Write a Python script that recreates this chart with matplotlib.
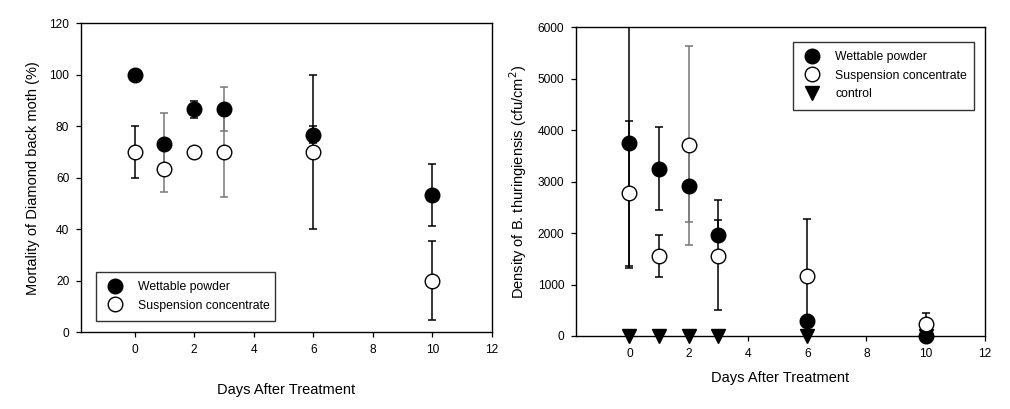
import matplotlib
matplotlib.use("Agg")
import matplotlib.pyplot as plt
import numpy as np

plt.rcParams["font.family"] = ["Liberation Sans", "DejaVu Sans"]

# Mortality (left panel)
days = [0, 1, 2, 3, 6, 10]
wp_mort = [100, 73.3, 86.7, 86.7, 76.7, 53.3]
wp_mort_err = [0, 12, 3.3, 8.7, 3.3, 12]
sc_mort = [70, 63.3, 70, 70, 70, 20]
sc_mort_err = [10, 8.8, 0, 17.3, 30, 15.3]

# B. thuringiensis density (right panel)
wp_dens = [3750, 3250, 2910, 1965, 290, 0]
wp_dens_lo = [2420, 810, 695, 0, 0, 0]
wp_dens_hi = [2430, 810, 695, 687, 0, 0]
sc_dens = [2770, 1556, 3703, 1563, 1161, 240]
sc_dens_lo = [1413, 405, 1935, 1064, 1115, 207]
sc_dens_hi = [1413, 405, 1935, 687, 1115, 207]
control = [0, 0, 0, 0, 0, 0]

series_names = ["Wettable powder", "Suspension concentrate", "control"]

gray_left = [1, 3]
gray_right = [2]
ms = 10.5
cap = 3


def draw_err(ax, x, y, lo, hi, gray_days):
    x = np.array(x)
    y = np.array(y)
    lo = np.array(lo)
    hi = np.array(hi)
    g = np.isin(x, gray_days)
    for mask, col in [(~g, "black"), (g, "#777777")]:
        ax.errorbar(x[mask], y[mask], yerr=[lo[mask], hi[mask]], fmt="none",
                    ecolor=col, elinewidth=1.1, capsize=cap, capthick=1.1, zorder=2)


def style_axes(ax):
    for s in ax.spines.values():
        s.set_linewidth(1.0)
    ax.tick_params(direction="out", length=3.5, width=0.9, labelsize=8.6,
                   top=False, right=False, pad=5)
    ax.set_xlim(-1.8, 12)
    ax.set_xticks(np.arange(0, 13, 2))


def make_legend(ax, handles, labels, loc, box):
    leg = ax.legend(handles, labels, loc=loc, bbox_to_anchor=box,
                    mode="expand", fontsize=8.8, frameon=True, fancybox=False,
                    edgecolor="black", borderpad=0.75, handletextpad=1.1,
                    labelspacing=0.55, borderaxespad=0, handlelength=1.6,
                    markerscale=1.0)
    leg.get_frame().set_linewidth(1.0)
    return leg


fig = plt.figure(figsize=(10.10, 4.09), dpi=100)

# left panel
ax1 = fig.add_axes([0.0802, 0.1875, 0.407, 0.7555])
style_axes(ax1)
ax1.set_ylim(0, 120)
ax1.set_yticks(np.arange(0, 121, 20))
draw_err(ax1, days, wp_mort, wp_mort_err, wp_mort_err, gray_left)
draw_err(ax1, days, sc_mort, sc_mort_err, sc_mort_err, gray_left)
ax1.plot(days, wp_mort, "o", ms=ms, mfc="black", mec="black", ls="none",
         label=series_names[0], zorder=3, clip_on=False)
ax1.plot(days, sc_mort, "o", ms=ms, mfc="white", mec="black", mew=1.0, ls="none",
         label=series_names[1], zorder=4, clip_on=False)
ax1.set_xlabel("Days After Treatment", fontsize=10.5)
ax1.xaxis.set_label_coords(0.5, -0.165)
ax1.set_ylabel("Mortality of Diamond back moth (%)", fontsize=10.5)
ax1.yaxis.set_label_coords(-0.1, 0.5)
h, l = ax1.get_legend_handles_labels()
make_legend(ax1, h, l, "lower left", (0.036, 0.037, 0.437, 0.17))

# right panel
ax2 = fig.add_axes([0.5703, 0.1785, 0.405, 0.7548])
style_axes(ax2)
ax2.set_ylim(0, 6000)
ax2.set_yticks(np.arange(0, 6001, 1000))
draw_err(ax2, days, wp_dens, wp_dens_lo, wp_dens_hi, gray_right)
draw_err(ax2, days, sc_dens, sc_dens_lo, sc_dens_hi, gray_right)
ax2.plot(days, control, "v", ms=ms, mfc="black", mec="black", ls="none",
         label=series_names[2], zorder=3, clip_on=False)
ax2.plot(days, wp_dens, "o", ms=ms, mfc="black", mec="black", ls="none",
         label=series_names[0], zorder=4, clip_on=False)
ax2.plot(days, sc_dens, "o", ms=ms, mfc="white", mec="black", mew=1.0, ls="none",
         label=series_names[1], zorder=5, clip_on=False)
ax2.set_xlabel("Days After Treatment", fontsize=10.5)
ax2.xaxis.set_label_coords(0.5, -0.115)
ax2.set_ylabel("Density of B. thuringiensis (cfu/cm$^2$)", fontsize=10.5)
ax2.yaxis.set_label_coords(-0.115, 0.5)
h, l = ax2.get_legend_handles_labels()
order = [1, 2, 0]
make_legend(ax2, [h[i] for i in order], [l[i] for i in order],
            "upper left", (0.531, 0.721, 0.442, 0.232))

fig.savefig("out.png", dpi=100)
